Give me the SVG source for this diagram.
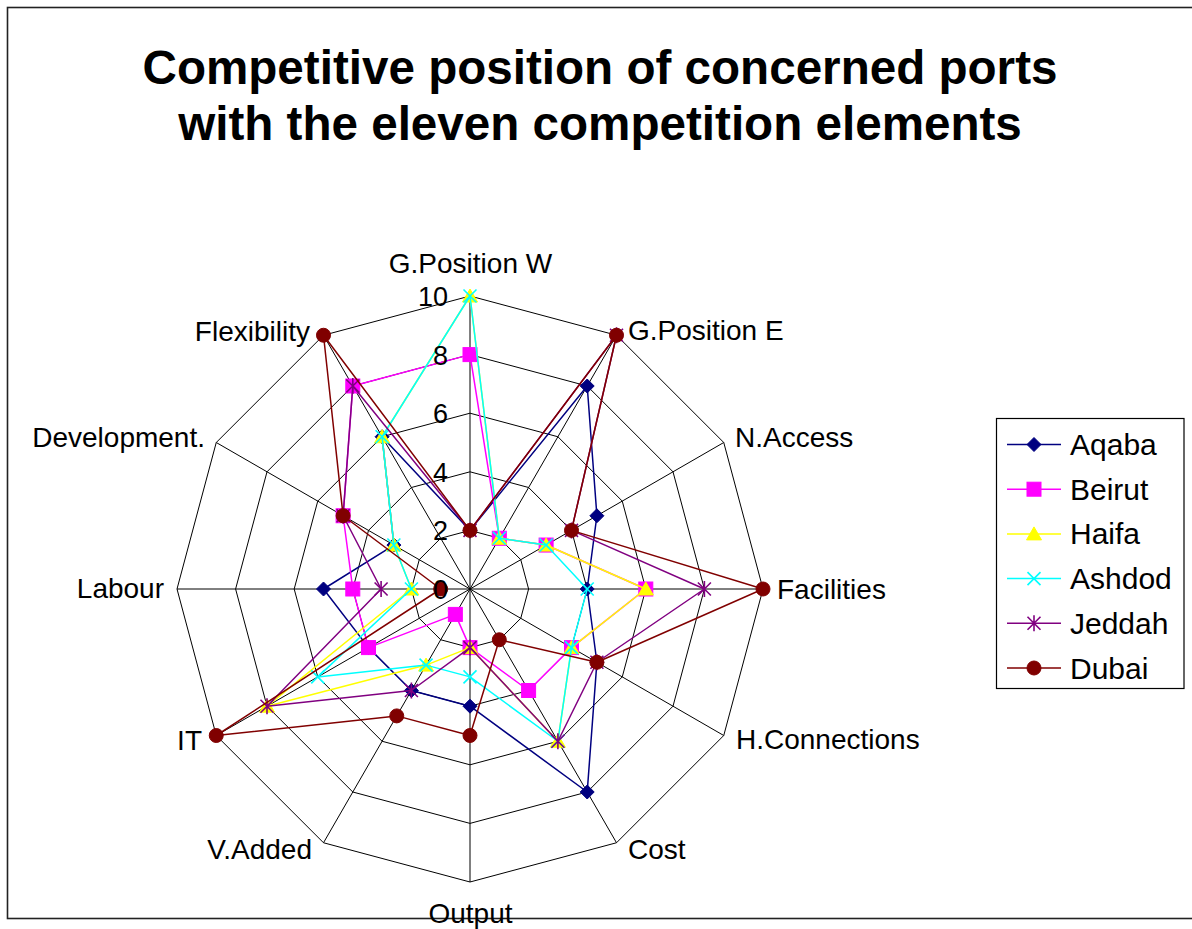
<svg xmlns="http://www.w3.org/2000/svg" width="1192" height="929" viewBox="0 0 1192 929">
<style>
.t{font-family:"Liberation Sans",Arial,sans-serif;fill:#000}
.title{font-size:47.6px;font-weight:bold}
.cat{font-size:28px}
.tick{font-size:27px}
.leg{font-size:30px}
.grid{fill:none;stroke:#000;stroke-width:1}
.s{fill:none;stroke-width:1.5;stroke-linejoin:round}
</style>
<defs>
<polygon id="mA" points="0,-7 7,0 0,7 -7,0" fill="#000080" stroke="#000080" stroke-width="1"/>
<rect id="mB" x="-7" y="-7" width="14" height="14" fill="#FF00FF" stroke="#FF00FF" stroke-width="1"/>
<polygon id="mH" points="0,-7 7.5,6 -7.5,6" fill="#FFFF00" stroke="#FFFF00" stroke-width="1"/>
<path id="mS" d="M-6.5,-6.5L6.5,6.5M-6.5,6.5L6.5,-6.5" stroke="#00FFFF" stroke-width="1.6" fill="none"/>
<path id="mJ" d="M-6.5,-6.5L6.5,6.5M-6.5,6.5L6.5,-6.5M0,-8L0,8" stroke="#800080" stroke-width="1.6" fill="none"/>
<circle id="mD" r="7" fill="#800000" stroke="#800000" stroke-width="1"/>
</defs>
<rect width="1192" height="929" fill="#fff"/>
<rect x="7.5" y="7.5" width="1200" height="911" fill="none" stroke="#222" stroke-width="1.6"/>
<g id="title">
<text class="t title" x="600" y="84" text-anchor="middle">Competitive position of concerned ports</text>
<text class="t title" x="600" y="140" text-anchor="middle">with the eleven competition elements</text>
</g>
<g id="grid">
<polygon class="grid" points="470,530.4 499.3,538.25 520.75,559.7 528.6,589 520.75,618.3 499.3,639.75 470,647.6 440.7,639.75 419.25,618.3 411.4,589 419.25,559.7 440.7,538.25"/>
<polygon class="grid" points="470,471.8 528.6,487.5 571.5,530.4 587.2,589 571.5,647.6 528.6,690.5 470,706.2 411.4,690.5 368.5,647.6 352.8,589 368.5,530.4 411.4,487.5"/>
<polygon class="grid" points="470,413.2 557.9,436.75 622.25,501.1 645.8,589 622.25,676.9 557.9,741.25 470,764.8 382.1,741.25 317.75,676.9 294.2,589 317.75,501.1 382.1,436.75"/>
<polygon class="grid" points="470,354.6 587.2,386 673,471.8 704.4,589 673,706.2 587.2,792 470,823.4 352.8,792 267,706.2 235.6,589 267,471.8 352.8,386"/>
<polygon class="grid" points="470,296 616.5,335.25 723.75,442.5 763,589 723.75,735.5 616.5,842.75 470,882 323.5,842.75 216.25,735.5 177,589 216.25,442.5 323.5,335.25"/>
<path class="grid" d="M470,589L470,296M470,589L616.5,335.25M470,589L723.75,442.5M470,589L763,589M470,589L723.75,735.5M470,589L616.5,842.75M470,589L470,882M470,589L323.5,842.75M470,589L216.25,735.5M470,589L177,589M470,589L216.25,442.5M470,589L323.5,335.25"/>
</g>
<g id="connectors">
<g id="series-aqaba">
<polygon class="s" stroke="#000080" points="470,530.4 587.2,386 596.9,515.75 587.2,589 596.9,662.25 587.2,792 470,706.2 411.4,690.5 368.5,647.6 323.5,589 393.9,545.05 382.1,436.75"/>
<use href="#mA" x="470" y="530.4"/><use href="#mA" x="587.2" y="386"/><use href="#mA" x="596.9" y="515.75"/><use href="#mA" x="587.2" y="589"/><use href="#mA" x="596.9" y="662.25"/><use href="#mA" x="587.2" y="792"/><use href="#mA" x="470" y="706.2"/><use href="#mA" x="411.4" y="690.5"/><use href="#mA" x="368.5" y="647.6"/><use href="#mA" x="323.5" y="589"/><use href="#mA" x="393.9" y="545.05"/><use href="#mA" x="382.1" y="436.75"/>
</g>
<g id="series-beirut">
<polygon class="s" stroke="#FF00FF" points="470,354.6 499.3,538.25 546.1,545.05 645.8,589 571.5,647.6 528.6,690.5 470,647.6 455.35,614.4 368.5,647.6 352.8,589 343.1,515.75 352.8,386"/>
<use href="#mB" x="470" y="354.6"/><use href="#mB" x="499.3" y="538.25"/><use href="#mB" x="546.1" y="545.05"/><use href="#mB" x="645.8" y="589"/><use href="#mB" x="571.5" y="647.6"/><use href="#mB" x="528.6" y="690.5"/><use href="#mB" x="470" y="647.6"/><use href="#mB" x="455.35" y="614.4"/><use href="#mB" x="368.5" y="647.6"/><use href="#mB" x="352.8" y="589"/><use href="#mB" x="343.1" y="515.75"/><use href="#mB" x="352.8" y="386"/>
</g>
<g id="series-haifa">
<polygon class="s" stroke="#FFFF00" points="470,296 499.3,538.25 546.1,545.05 645.8,589 571.5,647.6 557.9,741.25 470,647.6 426.05,665.1 267,706.2 411.4,589 393.9,545.05 382.1,436.75"/>
<use href="#mH" x="470" y="296"/><use href="#mH" x="499.3" y="538.25"/><use href="#mH" x="546.1" y="545.05"/><use href="#mH" x="645.8" y="589"/><use href="#mH" x="571.5" y="647.6"/><use href="#mH" x="557.9" y="741.25"/><use href="#mH" x="470" y="647.6"/><use href="#mH" x="426.05" y="665.1"/><use href="#mH" x="267" y="706.2"/><use href="#mH" x="411.4" y="589"/><use href="#mH" x="393.9" y="545.05"/><use href="#mH" x="382.1" y="436.75"/>
</g>
<g id="series-ashdod">
<polygon class="s" stroke="#00FFFF" points="470,296 499.3,538.25 546.1,545.05 587.2,589 571.5,647.6 557.9,741.25 470,676.9 426.05,665.1 317.75,676.9 411.4,589 393.9,545.05 382.1,436.75"/>
<use href="#mS" x="470" y="296"/><use href="#mS" x="499.3" y="538.25"/><use href="#mS" x="546.1" y="545.05"/><use href="#mS" x="587.2" y="589"/><use href="#mS" x="571.5" y="647.6"/><use href="#mS" x="557.9" y="741.25"/><use href="#mS" x="470" y="676.9"/><use href="#mS" x="426.05" y="665.1"/><use href="#mS" x="317.75" y="676.9"/><use href="#mS" x="411.4" y="589"/><use href="#mS" x="393.9" y="545.05"/><use href="#mS" x="382.1" y="436.75"/>
</g>
<g id="series-jeddah">
<polygon class="s" stroke="#800080" points="470,530.4 616.5,335.25 571.5,530.4 704.4,589 596.9,662.25 557.9,741.25 470,647.6 411.4,690.5 267,706.2 381.1,589 343.1,515.75 352.8,386"/>
<use href="#mJ" x="470" y="530.4"/><use href="#mJ" x="616.5" y="335.25"/><use href="#mJ" x="571.5" y="530.4"/><use href="#mJ" x="704.4" y="589"/><use href="#mJ" x="596.9" y="662.25"/><use href="#mJ" x="557.9" y="741.25"/><use href="#mJ" x="470" y="647.6"/><use href="#mJ" x="411.4" y="690.5"/><use href="#mJ" x="267" y="706.2"/><use href="#mJ" x="381.1" y="589"/><use href="#mJ" x="343.1" y="515.75"/><use href="#mJ" x="352.8" y="386"/>
</g>
<g id="series-dubai">
<polygon class="s" stroke="#800000" points="470,530.4 616.5,335.25 571.5,530.4 763,589 596.9,662.25 499.3,639.75 470,735.5 396.75,715.9 216.25,735.5 440.7,589 343.1,515.75 323.5,335.25"/>
<use href="#mD" x="470" y="530.4"/><use href="#mD" x="616.5" y="335.25"/><use href="#mD" x="571.5" y="530.4"/><use href="#mD" x="763" y="589"/><use href="#mD" x="596.9" y="662.25"/><use href="#mD" x="499.3" y="639.75"/><use href="#mD" x="470" y="735.5"/><use href="#mD" x="396.75" y="715.9"/><use href="#mD" x="216.25" y="735.5"/><use href="#mD" x="440.7" y="589"/><use href="#mD" x="343.1" y="515.75"/><use href="#mD" x="323.5" y="335.25"/>
</g>
</g>
<g id="ticks">
<text class="t tick" x="448" y="599" text-anchor="end">0</text>
<text class="t tick" x="448" y="540.4" text-anchor="end">2</text>
<text class="t tick" x="448" y="481.8" text-anchor="end">4</text>
<text class="t tick" x="448" y="423.2" text-anchor="end">6</text>
<text class="t tick" x="448" y="364.6" text-anchor="end">8</text>
<text class="t tick" x="448" y="306" text-anchor="end">10</text>
</g>
<g id="labels">
<text class="t cat" x="470.5" y="273" text-anchor="middle">G.Position W</text>
<text class="t cat" x="628" y="340">G.Position E</text>
<text class="t cat" x="735" y="447">N.Access</text>
<text class="t cat" x="777" y="599">Facilities</text>
<text class="t cat" x="736" y="749">H.Connections</text>
<text class="t cat" x="628" y="859">Cost</text>
<text class="t cat" x="470.5" y="923" text-anchor="middle">Output</text>
<text class="t cat" x="312" y="858.5" text-anchor="end">V.Added</text>
<text class="t cat" x="202" y="750" text-anchor="end">IT</text>
<text class="t cat" x="164" y="597.5" text-anchor="end">Labour</text>
<text class="t cat" x="205" y="447" text-anchor="end">Development.</text>
<text class="t cat" x="310" y="341" text-anchor="end">Flexibility</text>
</g>
<g id="legend">
<rect x="996.5" y="418.5" width="187.5" height="270" fill="#fff" stroke="#000" stroke-width="1.2"/>
<g id="leg-aqaba"><line x1="1007" y1="444.5" x2="1061" y2="444.5" stroke="#000080" stroke-width="1.5"/><use href="#mA" x="1034" y="444.5"/><text class="t leg" x="1070" y="455">Aqaba</text></g>
<g id="leg-beirut"><line x1="1007" y1="489.2" x2="1061" y2="489.2" stroke="#FF00FF" stroke-width="1.5"/><use href="#mB" x="1034" y="489.2"/><text class="t leg" x="1070" y="499.7">Beirut</text></g>
<g id="leg-haifa"><line x1="1007" y1="533.9" x2="1061" y2="533.9" stroke="#FFFF00" stroke-width="1.5"/><use href="#mH" x="1034" y="533.9"/><text class="t leg" x="1070" y="544.4">Haifa</text></g>
<g id="leg-ashdod"><line x1="1007" y1="578.6" x2="1061" y2="578.6" stroke="#00FFFF" stroke-width="1.5"/><use href="#mS" x="1034" y="578.6"/><text class="t leg" x="1070" y="589.1">Ashdod</text></g>
<g id="leg-jeddah"><line x1="1007" y1="623.3" x2="1061" y2="623.3" stroke="#800080" stroke-width="1.5"/><use href="#mJ" x="1034" y="623.3"/><text class="t leg" x="1070" y="633.8">Jeddah</text></g>
<g id="leg-dubai"><line x1="1007" y1="668" x2="1061" y2="668" stroke="#800000" stroke-width="1.5"/><use href="#mD" x="1034" y="668"/><text class="t leg" x="1070" y="678.5">Dubai</text></g>
</g>
</svg>
